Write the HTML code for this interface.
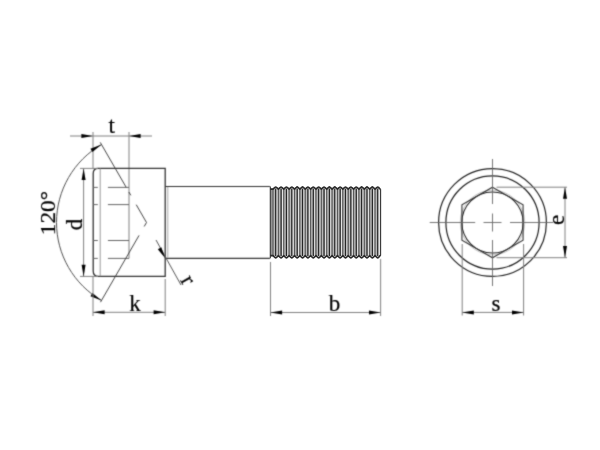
<!DOCTYPE html>
<html><head><meta charset="utf-8"><style>
html,body{margin:0;padding:0;background:#fff;width:600px;height:450px;overflow:hidden}
svg{display:block}
text{font-family:"Liberation Serif",serif;fill:#000;stroke:#000;stroke-width:0.2px}
</style></head><body>
<svg width="600" height="450" viewBox="0 0 600 450">
<defs><filter id="bl" x="0" y="0" width="600" height="450" filterUnits="userSpaceOnUse" color-interpolation-filters="sRGB"><feConvolveMatrix order="3" kernelMatrix="0.03 0.1 0.03 0.1 0.48 0.1 0.03 0.1 0.03" edgeMode="none"/></filter></defs>
<g filter="url(#bl)"><rect width="600" height="450" fill="#fff"/>
<line x1="70.00" y1="136.00" x2="152.00" y2="136.00" stroke="#808080" stroke-width="1.0" />
<path d="M93.00,136.00 L81.40,138.00 L81.40,134.00 Z" fill="#000"/>
<path d="M129.00,136.00 L140.60,134.00 L140.60,138.00 Z" fill="#000"/>
<line x1="93.00" y1="132.00" x2="93.00" y2="168.50" stroke="#808080" stroke-width="1.0" />
<line x1="129.00" y1="132.00" x2="129.00" y2="258.40" stroke="#808080" stroke-width="1.0" />
<text x="111.8" y="133.4" font-size="23" text-anchor="middle">t</text>
<path d="M98.2,168.4 H165.2 V276.4 H98.5 Q93.2,276.4 93.2,271 V173.6 Q93.2,168.4 98.2,168.4 Z" fill="none" stroke="#333" stroke-width="1.3"/>
<line x1="100.20" y1="168.50" x2="100.20" y2="276.20" stroke="#999" stroke-width="1.0" />
<line x1="93.00" y1="187.40" x2="97.80" y2="187.40" stroke="#666" stroke-width="1.0" />
<line x1="107.90" y1="187.40" x2="129.00" y2="187.40" stroke="#666" stroke-width="1.0" />
<line x1="93.00" y1="204.60" x2="97.80" y2="204.60" stroke="#666" stroke-width="1.0" />
<line x1="107.90" y1="204.60" x2="129.00" y2="204.60" stroke="#666" stroke-width="1.0" />
<line x1="93.00" y1="240.50" x2="97.80" y2="240.50" stroke="#666" stroke-width="1.0" />
<line x1="107.90" y1="240.50" x2="129.00" y2="240.50" stroke="#666" stroke-width="1.0" />
<line x1="93.00" y1="258.40" x2="97.80" y2="258.40" stroke="#666" stroke-width="1.0" />
<line x1="107.90" y1="258.40" x2="129.00" y2="258.40" stroke="#666" stroke-width="1.0" />
<line x1="165.20" y1="186.50" x2="270.00" y2="186.50" stroke="#333" stroke-width="1.2" />
<line x1="165.20" y1="258.30" x2="270.00" y2="258.30" stroke="#333" stroke-width="1.2" />
<line x1="167.80" y1="187.00" x2="167.80" y2="258.00" stroke="#aaa" stroke-width="1.0" />
<line x1="100.25" y1="142.39" x2="126.18" y2="187.30" stroke="#3a3a3a" stroke-width="0.95" />
<line x1="128.89" y1="192.00" x2="130.80" y2="195.30" stroke="#3a3a3a" stroke-width="0.95" />
<line x1="136.22" y1="204.70" x2="146.50" y2="222.50" stroke="#3a3a3a" stroke-width="0.95" />
<line x1="146.50" y1="222.50" x2="144.20" y2="226.48" stroke="#3a3a3a" stroke-width="0.95" />
<line x1="139.05" y1="235.40" x2="100.50" y2="302.17" stroke="#3a3a3a" stroke-width="0.95" />
<path d="M101.50,144.56 A90,90 0 0 0 101.50,300.44" fill="none" stroke="#505050" stroke-width="1.0"/>
<path d="M101.50,144.56 L92.45,152.09 L90.45,148.63 Z" fill="#000"/>
<path d="M101.50,300.44 L90.45,296.37 L92.45,292.91 Z" fill="#000"/>
<text x="55.4" y="213.1" font-size="21" text-anchor="middle" transform="rotate(-90 55.4 213.1)" textLength="44.3" lengthAdjust="spacingAndGlyphs">120°</text>
<line x1="80.00" y1="168.40" x2="98.00" y2="168.40" stroke="#808080" stroke-width="1.0" />
<line x1="80.00" y1="276.40" x2="98.00" y2="276.40" stroke="#808080" stroke-width="1.0" />
<line x1="83.60" y1="169.00" x2="83.60" y2="276.40" stroke="#808080" stroke-width="1.0" />
<path d="M83.60,168.50 L85.60,180.10 L81.60,180.10 Z" fill="#000"/>
<path d="M83.60,276.40 L81.60,264.80 L85.60,264.80 Z" fill="#000"/>
<text x="82" y="224.5" font-size="23" text-anchor="middle" transform="rotate(-90 82 224.5)">d</text>
<line x1="93.00" y1="276.40" x2="93.00" y2="316.00" stroke="#808080" stroke-width="1.0" />
<line x1="165.20" y1="279.00" x2="165.20" y2="316.00" stroke="#808080" stroke-width="1.0" />
<line x1="93.00" y1="312.30" x2="165.20" y2="312.30" stroke="#808080" stroke-width="1.0" />
<path d="M93.00,312.30 L104.60,310.30 L104.60,314.30 Z" fill="#000"/>
<path d="M165.20,312.30 L153.60,314.30 L153.60,310.30 Z" fill="#000"/>
<text x="135.1" y="310.6" font-size="23" text-anchor="middle">k</text>
<line x1="270.50" y1="262.00" x2="270.50" y2="316.00" stroke="#808080" stroke-width="1.0" />
<line x1="380.60" y1="259.00" x2="380.60" y2="316.00" stroke="#808080" stroke-width="1.0" />
<line x1="270.50" y1="312.50" x2="380.60" y2="312.50" stroke="#808080" stroke-width="1.0" />
<path d="M270.50,312.50 L282.10,310.50 L282.10,314.50 Z" fill="#000"/>
<path d="M380.60,312.50 L369.00,314.50 L369.00,310.50 Z" fill="#000"/>
<text x="334.6" y="310.6" font-size="23" text-anchor="middle">b</text>
<line x1="156.00" y1="240.00" x2="181.00" y2="285.00" stroke="#555" stroke-width="1.0" />
<path d="M165.20,258.30 L157.82,249.13 L161.31,247.19 Z" fill="#000"/>
<text x="182" y="283.5" font-size="23" text-anchor="middle" transform="rotate(60 182 283.5)">r</text>
<circle cx="492.5" cy="222.5" r="53.9" fill="none" stroke="#222" stroke-width="1.2"/>
<circle cx="492.5" cy="222.5" r="46.6" fill="none" stroke="#222" stroke-width="1.2"/>
<circle cx="492.5" cy="222.5" r="30.6" fill="none" stroke="#222" stroke-width="1.05"/>
<circle cx="492.5" cy="222.5" r="32.3" fill="none" stroke="#bbb" stroke-width="0.8"/>
<path d="M492.50,187.20 L523.07,204.85 L523.07,240.15 L492.50,257.80 L461.93,240.15 L461.93,204.85 Z" fill="none" stroke="#333" stroke-width="1.1"/>
<line x1="429.70" y1="222.50" x2="475.20" y2="222.50" stroke="#666" stroke-width="0.9" />
<line x1="483.50" y1="222.50" x2="501.50" y2="222.50" stroke="#666" stroke-width="0.9" />
<line x1="510.00" y1="222.50" x2="553.00" y2="222.50" stroke="#666" stroke-width="0.9" />
<line x1="492.50" y1="159.00" x2="492.50" y2="204.00" stroke="#666" stroke-width="0.9" />
<line x1="492.50" y1="213.50" x2="492.50" y2="231.50" stroke="#666" stroke-width="0.9" />
<line x1="492.50" y1="240.00" x2="492.50" y2="286.00" stroke="#666" stroke-width="0.9" />
<line x1="496.50" y1="187.20" x2="567.00" y2="187.20" stroke="#808080" stroke-width="1.0" />
<line x1="496.50" y1="257.70" x2="567.00" y2="257.70" stroke="#808080" stroke-width="1.0" />
<line x1="565.00" y1="187.20" x2="565.00" y2="257.70" stroke="#808080" stroke-width="1.0" />
<path d="M565.00,187.20 L567.00,198.80 L563.00,198.80 Z" fill="#000"/>
<path d="M565.00,257.70 L563.00,246.10 L567.00,246.10 Z" fill="#000"/>
<text x="563.5" y="220" font-size="23" text-anchor="middle" transform="rotate(-90 563.5 220)">e</text>
<line x1="462.20" y1="244.00" x2="462.20" y2="315.50" stroke="#808080" stroke-width="1.0" />
<line x1="523.60" y1="244.00" x2="523.60" y2="315.50" stroke="#808080" stroke-width="1.0" />
<line x1="462.20" y1="312.40" x2="523.60" y2="312.40" stroke="#808080" stroke-width="1.0" />
<path d="M462.20,312.40 L473.80,310.40 L473.80,314.40 Z" fill="#000"/>
<path d="M523.60,312.40 L512.00,314.40 L512.00,310.40 Z" fill="#000"/>
<text x="496" y="310.5" font-size="23" text-anchor="middle">s</text>
</g>
<rect x="270.5" y="188.6" width="109.60" height="67.6" fill="#959595"/>
<line x1="275.70" y1="188.60" x2="275.70" y2="256.20" stroke="#262626" stroke-width="1.2"/>
<line x1="273.01" y1="188.60" x2="273.01" y2="256.20" stroke="#505050" stroke-width="0.9"/>
<line x1="277.10" y1="188.60" x2="277.10" y2="256.20" stroke="#eeeeee" stroke-width="0.9"/>
<line x1="274.31" y1="188.60" x2="274.31" y2="256.20" stroke="#cccccc" stroke-width="0.7"/>
<line x1="281.07" y1="188.60" x2="281.07" y2="256.20" stroke="#262626" stroke-width="1.2"/>
<line x1="278.38" y1="188.60" x2="278.38" y2="256.20" stroke="#505050" stroke-width="0.9"/>
<line x1="282.47" y1="188.60" x2="282.47" y2="256.20" stroke="#eeeeee" stroke-width="0.9"/>
<line x1="279.69" y1="188.60" x2="279.69" y2="256.20" stroke="#cccccc" stroke-width="0.7"/>
<line x1="286.44" y1="188.60" x2="286.44" y2="256.20" stroke="#262626" stroke-width="1.2"/>
<line x1="283.75" y1="188.60" x2="283.75" y2="256.20" stroke="#505050" stroke-width="0.9"/>
<line x1="287.84" y1="188.60" x2="287.84" y2="256.20" stroke="#eeeeee" stroke-width="0.9"/>
<line x1="285.06" y1="188.60" x2="285.06" y2="256.20" stroke="#cccccc" stroke-width="0.7"/>
<line x1="291.81" y1="188.60" x2="291.81" y2="256.20" stroke="#262626" stroke-width="1.2"/>
<line x1="289.12" y1="188.60" x2="289.12" y2="256.20" stroke="#505050" stroke-width="0.9"/>
<line x1="293.21" y1="188.60" x2="293.21" y2="256.20" stroke="#eeeeee" stroke-width="0.9"/>
<line x1="290.43" y1="188.60" x2="290.43" y2="256.20" stroke="#cccccc" stroke-width="0.7"/>
<line x1="297.18" y1="188.60" x2="297.18" y2="256.20" stroke="#262626" stroke-width="1.2"/>
<line x1="294.50" y1="188.60" x2="294.50" y2="256.20" stroke="#505050" stroke-width="0.9"/>
<line x1="298.58" y1="188.60" x2="298.58" y2="256.20" stroke="#eeeeee" stroke-width="0.9"/>
<line x1="295.80" y1="188.60" x2="295.80" y2="256.20" stroke="#cccccc" stroke-width="0.7"/>
<line x1="302.55" y1="188.60" x2="302.55" y2="256.20" stroke="#262626" stroke-width="1.2"/>
<line x1="299.87" y1="188.60" x2="299.87" y2="256.20" stroke="#505050" stroke-width="0.9"/>
<line x1="303.95" y1="188.60" x2="303.95" y2="256.20" stroke="#eeeeee" stroke-width="0.9"/>
<line x1="301.17" y1="188.60" x2="301.17" y2="256.20" stroke="#cccccc" stroke-width="0.7"/>
<line x1="307.92" y1="188.60" x2="307.92" y2="256.20" stroke="#262626" stroke-width="1.2"/>
<line x1="305.23" y1="188.60" x2="305.23" y2="256.20" stroke="#505050" stroke-width="0.9"/>
<line x1="309.32" y1="188.60" x2="309.32" y2="256.20" stroke="#eeeeee" stroke-width="0.9"/>
<line x1="306.53" y1="188.60" x2="306.53" y2="256.20" stroke="#cccccc" stroke-width="0.7"/>
<line x1="313.29" y1="188.60" x2="313.29" y2="256.20" stroke="#262626" stroke-width="1.2"/>
<line x1="310.60" y1="188.60" x2="310.60" y2="256.20" stroke="#505050" stroke-width="0.9"/>
<line x1="314.69" y1="188.60" x2="314.69" y2="256.20" stroke="#eeeeee" stroke-width="0.9"/>
<line x1="311.90" y1="188.60" x2="311.90" y2="256.20" stroke="#cccccc" stroke-width="0.7"/>
<line x1="318.66" y1="188.60" x2="318.66" y2="256.20" stroke="#262626" stroke-width="1.2"/>
<line x1="315.97" y1="188.60" x2="315.97" y2="256.20" stroke="#505050" stroke-width="0.9"/>
<line x1="320.06" y1="188.60" x2="320.06" y2="256.20" stroke="#eeeeee" stroke-width="0.9"/>
<line x1="317.27" y1="188.60" x2="317.27" y2="256.20" stroke="#cccccc" stroke-width="0.7"/>
<line x1="324.03" y1="188.60" x2="324.03" y2="256.20" stroke="#262626" stroke-width="1.2"/>
<line x1="321.34" y1="188.60" x2="321.34" y2="256.20" stroke="#505050" stroke-width="0.9"/>
<line x1="325.43" y1="188.60" x2="325.43" y2="256.20" stroke="#eeeeee" stroke-width="0.9"/>
<line x1="322.64" y1="188.60" x2="322.64" y2="256.20" stroke="#cccccc" stroke-width="0.7"/>
<line x1="329.40" y1="188.60" x2="329.40" y2="256.20" stroke="#262626" stroke-width="1.2"/>
<line x1="326.71" y1="188.60" x2="326.71" y2="256.20" stroke="#505050" stroke-width="0.9"/>
<line x1="330.80" y1="188.60" x2="330.80" y2="256.20" stroke="#eeeeee" stroke-width="0.9"/>
<line x1="328.01" y1="188.60" x2="328.01" y2="256.20" stroke="#cccccc" stroke-width="0.7"/>
<line x1="334.77" y1="188.60" x2="334.77" y2="256.20" stroke="#262626" stroke-width="1.2"/>
<line x1="332.08" y1="188.60" x2="332.08" y2="256.20" stroke="#505050" stroke-width="0.9"/>
<line x1="336.17" y1="188.60" x2="336.17" y2="256.20" stroke="#eeeeee" stroke-width="0.9"/>
<line x1="333.38" y1="188.60" x2="333.38" y2="256.20" stroke="#cccccc" stroke-width="0.7"/>
<line x1="340.14" y1="188.60" x2="340.14" y2="256.20" stroke="#262626" stroke-width="1.2"/>
<line x1="337.45" y1="188.60" x2="337.45" y2="256.20" stroke="#505050" stroke-width="0.9"/>
<line x1="341.54" y1="188.60" x2="341.54" y2="256.20" stroke="#eeeeee" stroke-width="0.9"/>
<line x1="338.75" y1="188.60" x2="338.75" y2="256.20" stroke="#cccccc" stroke-width="0.7"/>
<line x1="345.51" y1="188.60" x2="345.51" y2="256.20" stroke="#262626" stroke-width="1.2"/>
<line x1="342.82" y1="188.60" x2="342.82" y2="256.20" stroke="#505050" stroke-width="0.9"/>
<line x1="346.91" y1="188.60" x2="346.91" y2="256.20" stroke="#eeeeee" stroke-width="0.9"/>
<line x1="344.12" y1="188.60" x2="344.12" y2="256.20" stroke="#cccccc" stroke-width="0.7"/>
<line x1="350.88" y1="188.60" x2="350.88" y2="256.20" stroke="#262626" stroke-width="1.2"/>
<line x1="348.19" y1="188.60" x2="348.19" y2="256.20" stroke="#505050" stroke-width="0.9"/>
<line x1="352.28" y1="188.60" x2="352.28" y2="256.20" stroke="#eeeeee" stroke-width="0.9"/>
<line x1="349.50" y1="188.60" x2="349.50" y2="256.20" stroke="#cccccc" stroke-width="0.7"/>
<line x1="356.25" y1="188.60" x2="356.25" y2="256.20" stroke="#262626" stroke-width="1.2"/>
<line x1="353.56" y1="188.60" x2="353.56" y2="256.20" stroke="#505050" stroke-width="0.9"/>
<line x1="357.65" y1="188.60" x2="357.65" y2="256.20" stroke="#eeeeee" stroke-width="0.9"/>
<line x1="354.87" y1="188.60" x2="354.87" y2="256.20" stroke="#cccccc" stroke-width="0.7"/>
<line x1="361.62" y1="188.60" x2="361.62" y2="256.20" stroke="#262626" stroke-width="1.2"/>
<line x1="358.94" y1="188.60" x2="358.94" y2="256.20" stroke="#505050" stroke-width="0.9"/>
<line x1="363.02" y1="188.60" x2="363.02" y2="256.20" stroke="#eeeeee" stroke-width="0.9"/>
<line x1="360.24" y1="188.60" x2="360.24" y2="256.20" stroke="#cccccc" stroke-width="0.7"/>
<line x1="366.99" y1="188.60" x2="366.99" y2="256.20" stroke="#262626" stroke-width="1.2"/>
<line x1="364.31" y1="188.60" x2="364.31" y2="256.20" stroke="#505050" stroke-width="0.9"/>
<line x1="368.39" y1="188.60" x2="368.39" y2="256.20" stroke="#eeeeee" stroke-width="0.9"/>
<line x1="365.61" y1="188.60" x2="365.61" y2="256.20" stroke="#cccccc" stroke-width="0.7"/>
<line x1="372.36" y1="188.60" x2="372.36" y2="256.20" stroke="#262626" stroke-width="1.2"/>
<line x1="369.68" y1="188.60" x2="369.68" y2="256.20" stroke="#505050" stroke-width="0.9"/>
<line x1="373.76" y1="188.60" x2="373.76" y2="256.20" stroke="#eeeeee" stroke-width="0.9"/>
<line x1="370.98" y1="188.60" x2="370.98" y2="256.20" stroke="#cccccc" stroke-width="0.7"/>
<line x1="377.73" y1="188.60" x2="377.73" y2="256.20" stroke="#262626" stroke-width="1.2"/>
<line x1="375.05" y1="188.60" x2="375.05" y2="256.20" stroke="#505050" stroke-width="0.9"/>
<line x1="379.13" y1="188.60" x2="379.13" y2="256.20" stroke="#eeeeee" stroke-width="0.9"/>
<line x1="376.35" y1="188.60" x2="376.35" y2="256.20" stroke="#cccccc" stroke-width="0.7"/>
<path d="M270,189.10 L273.01,189.10 L274.90,187.35 Q275.70,186.55 276.50,187.35 L278.38,189.10 L280.27,187.35 Q281.07,186.55 281.87,187.35 L283.75,189.10 L285.64,187.35 Q286.44,186.55 287.24,187.35 L289.12,189.10 L291.01,187.35 Q291.81,186.55 292.61,187.35 L294.50,189.10 L296.38,187.35 Q297.18,186.55 297.98,187.35 L299.87,189.10 L301.75,187.35 Q302.55,186.55 303.35,187.35 L305.24,189.10 L307.12,187.35 Q307.92,186.55 308.72,187.35 L310.60,189.10 L312.49,187.35 Q313.29,186.55 314.09,187.35 L315.97,189.10 L317.86,187.35 Q318.66,186.55 319.46,187.35 L321.34,189.10 L323.23,187.35 Q324.03,186.55 324.83,187.35 L326.71,189.10 L328.60,187.35 Q329.40,186.55 330.20,187.35 L332.08,189.10 L333.97,187.35 Q334.77,186.55 335.57,187.35 L337.45,189.10 L339.34,187.35 Q340.14,186.55 340.94,187.35 L342.82,189.10 L344.71,187.35 Q345.51,186.55 346.31,187.35 L348.19,189.10 L350.08,187.35 Q350.88,186.55 351.68,187.35 L353.56,189.10 L355.45,187.35 Q356.25,186.55 357.05,187.35 L358.94,189.10 L360.82,187.35 Q361.62,186.55 362.42,187.35 L364.31,189.10 L366.19,187.35 Q366.99,186.55 367.79,187.35 L369.68,189.10 L371.56,187.35 Q372.36,186.55 373.16,187.35 L375.05,189.10 L376.93,187.35 Q377.73,186.55 378.53,187.35 L380.60,189.70" fill="none" stroke="#2a2a2a" stroke-width="1.6" stroke-linejoin="round"/>
<path d="M270,255.60 L273.01,255.60 L274.90,257.45 Q275.70,258.25 276.50,257.45 L278.38,255.60 L280.27,257.45 Q281.07,258.25 281.87,257.45 L283.75,255.60 L285.64,257.45 Q286.44,258.25 287.24,257.45 L289.12,255.60 L291.01,257.45 Q291.81,258.25 292.61,257.45 L294.50,255.60 L296.38,257.45 Q297.18,258.25 297.98,257.45 L299.87,255.60 L301.75,257.45 Q302.55,258.25 303.35,257.45 L305.24,255.60 L307.12,257.45 Q307.92,258.25 308.72,257.45 L310.60,255.60 L312.49,257.45 Q313.29,258.25 314.09,257.45 L315.97,255.60 L317.86,257.45 Q318.66,258.25 319.46,257.45 L321.34,255.60 L323.23,257.45 Q324.03,258.25 324.83,257.45 L326.71,255.60 L328.60,257.45 Q329.40,258.25 330.20,257.45 L332.08,255.60 L333.97,257.45 Q334.77,258.25 335.57,257.45 L337.45,255.60 L339.34,257.45 Q340.14,258.25 340.94,257.45 L342.82,255.60 L344.71,257.45 Q345.51,258.25 346.31,257.45 L348.19,255.60 L350.08,257.45 Q350.88,258.25 351.68,257.45 L353.56,255.60 L355.45,257.45 Q356.25,258.25 357.05,257.45 L358.94,255.60 L360.82,257.45 Q361.62,258.25 362.42,257.45 L364.31,255.60 L366.19,257.45 Q366.99,258.25 367.79,257.45 L369.68,255.60 L371.56,257.45 Q372.36,258.25 373.16,257.45 L375.05,255.60 L376.93,257.45 Q377.73,258.25 378.53,257.45 L380.60,255.00" fill="none" stroke="#2a2a2a" stroke-width="1.6" stroke-linejoin="round"/>
<line x1="270.3" y1="186.5" x2="270.3" y2="258.3" stroke="#333" stroke-width="1.1"/>
<line x1="379.40" y1="189.6" x2="379.40" y2="255.0" stroke="#e8e8e8" stroke-width="0.9"/>
<line x1="380.6" y1="189.4" x2="380.6" y2="255.2" stroke="#333" stroke-width="1.1"/>
</svg></body></html>
